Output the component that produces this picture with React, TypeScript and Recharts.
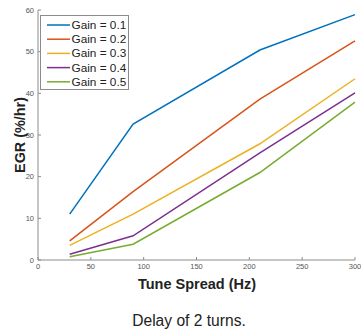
import { LineChart, Line, XAxis, YAxis, Label } from "recharts";

const tuneSpread = [30, 90, 210, 300];
const gain01 = [11.0, 32.6, 50.4, 58.9];
const gain02 = [4.6, 16.4, 38.6, 52.6];
const gain03 = [3.5, 11.0, 27.9, 43.5];
const gain04 = [1.4, 5.8, 25.7, 40.1];
const gain05 = [0.8, 3.8, 21.0, 37.9];
const xTicks = [0, 50, 100, 150, 200, 250, 300];
const yTicks = [0, 10, 20, 30, 40, 50, 60];

const series = [
  { key: "g1", name: "Gain = 0.1", color: "#0072BD", values: gain01 },
  { key: "g2", name: "Gain = 0.2", color: "#D95319", values: gain02 },
  { key: "g3", name: "Gain = 0.3", color: "#EDB120", values: gain03 },
  { key: "g4", name: "Gain = 0.4", color: "#7E2F8E", values: gain04 },
  { key: "g5", name: "Gain = 0.5", color: "#77AC30", values: gain05 },
];

const data = tuneSpread.map((x, i) => {
  const row: Record<string, number> = { x };
  series.forEach((s) => (row[s.key] = s.values[i]));
  return row;
});

const font = "'Liberation Sans', Arial, Helvetica, sans-serif";
const axisColor = "#8c8c8c";
const tickStyle = { fontSize: 7.5, fill: "#555", fontFamily: font };

// legend box drawn in svg, matlab style
const LegendBox = () => (
  <g>
    <rect x={40.5} y={15.5} width={88} height={74} fill="#fff" stroke={axisColor} />
    {series.map((s, i) => {
      const cy = 25 + i * 14.2;
      return (
        <g key={s.key}>
          <line x1={47} x2={70} y1={cy} y2={cy} stroke={s.color} strokeWidth={1.5} />
          <text x={71.5} y={cy + 4} fontFamily={font} fontSize={11.8} fill="#222">
            {s.name}
          </text>
        </g>
      );
    })}
  </g>
);

export default function App() {
  return (
    <div style={{ position: "absolute", left: 0, top: 0, width: 361, height: 329, background: "#fff" }}>
      <LineChart width={361} height={329} data={data} margin={{ top: 10, right: 6, left: 0, bottom: 0 }}>
        <XAxis
          dataKey="x"
          type="number"
          domain={[0, 300]}
          ticks={xTicks}
          height={69}
          stroke={axisColor}
          tickSize={-3}
          tickMargin={7}
          tick={tickStyle}
          interval={0}
        >
          <Label
            content={() => (
              <g>
                <text x={197} y={289} textAnchor="middle" fontFamily={font} fontWeight="bold" fontSize={14.5} fill="#222">
                  Tune Spread (Hz)
                </text>
                <text x={189} y={326} textAnchor="middle" fontFamily={font} fontSize={15.6} fill="#222">
                  Delay of 2 turns.
                </text>
              </g>
            )}
          />
        </XAxis>
        <XAxis
          xAxisId="top"
          orientation="top"
          dataKey="x"
          type="number"
          domain={[0, 300]}
          ticks={xTicks}
          height={0}
          stroke={axisColor}
          tickSize={-3}
          tickFormatter={() => ""}
        />
        <YAxis
          domain={[0, 60]}
          ticks={yTicks}
          width={38}
          stroke={axisColor}
          tickSize={-3}
          tickMargin={7}
          tick={tickStyle}
          interval={0}
        >
          <Label
            content={() => (
              <g>
                <text
                  x={25}
                  y={135}
                  transform="rotate(-90 25 135)"
                  textAnchor="middle"
                  fontFamily={font}
                  fontWeight="bold"
                  fontSize={14.4}
                  fill="#222"
                >
                  EGR (%/hr)
                </text>
                <LegendBox />
              </g>
            )}
          />
        </YAxis>
        <YAxis
          yAxisId="right"
          orientation="right"
          domain={[0, 60]}
          ticks={yTicks}
          width={0}
          stroke={axisColor}
          tickSize={-3}
          tickFormatter={() => ""}
        />
        {series.map((s) => (
          <Line
            key={s.key}
            dataKey={s.key}
            name={s.name}
            stroke={s.color}
            strokeWidth={1.5}
            dot={false}
            type="linear"
            isAnimationActive={false}
          />
        ))}
      </LineChart>
    </div>
  );
}
